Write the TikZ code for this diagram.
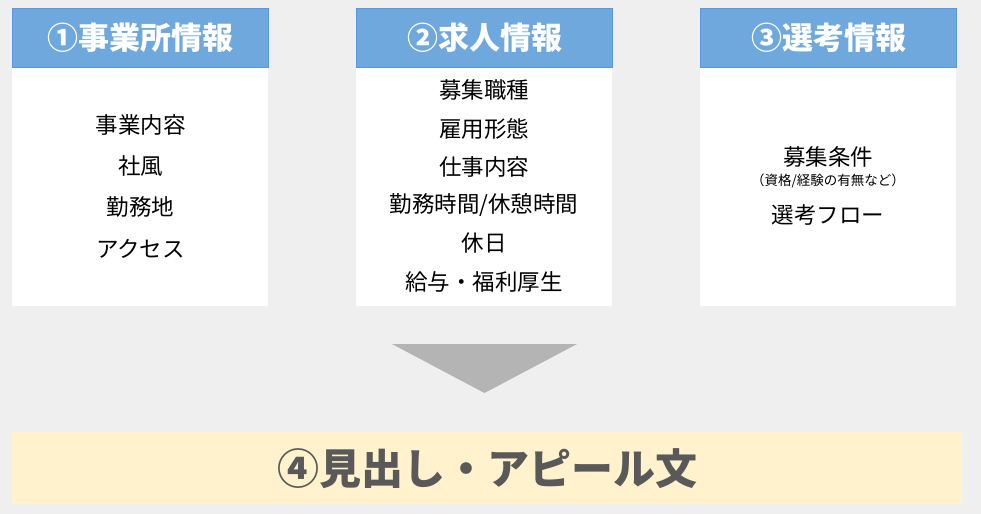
\documentclass[tikz,border=0pt]{standalone}
\usepackage{fontspec}
\newfontfamily\jp{Noto Sans CJK JP}
\definecolor{bg}{HTML}{EFEFEF}
\definecolor{hdrfill}{HTML}{6FA8DC}
\definecolor{hdrline}{HTML}{5A95E6}
\definecolor{tri}{HTML}{B4B4B4}
\definecolor{yel}{HTML}{FFF2CC}
\definecolor{dtext}{HTML}{595959}
\tikzset{
  hdr/.style={draw=hdrline, line width=1pt, fill=hdrfill, minimum width=256pt, minimum height=59pt, inner sep=0pt, text=white, font=\jp\bfseries\fontsize{31}{34}\selectfont},
  bodybox/.style={fill=white, minimum width=256pt, minimum height=239pt, inner sep=0pt},
  item/.style={font=\jp\fontsize{22.5}{26}\selectfont, text=black, inner sep=0pt},
  smallitem/.style={font=\jp\fontsize{13.5}{16}\selectfont, text=black, inner sep=0pt},
}
\begin{document}
\begin{tikzpicture}[x=1pt,y=-1pt]
\fill[bg] (0,0) rectangle (981,514);
\useasboundingbox (0,0) rectangle (981,514);
% bodies
\node[bodybox, anchor=north west] (b1) at (12,67) {};
\node[bodybox, anchor=north west] (b2) at (356,67) {};
\node[bodybox, anchor=north west] (b3) at (700,67) {};
% headers
\node[hdr, anchor=north west] (h1) at (12,8) {①事業所情報};
\node[hdr, anchor=north west] (h2) at (356,8) {②求人情報};
\node[hdr, anchor=north west] (h3) at (700,8) {③選考情報};
% panel 1
\node[item] (p1a) at (140.5,125) {事業内容};
\node[item] (p1b) at (140.5,166) {社風};
\node[item] (p1c) at (140.5,207) {勤務地};
\node[item] (p1d) at (140.5,249) {アクセス};
% panel 2
\node[item] (p2a) at (484,90) {募集職種};
\node[item] (p2b) at (484,129) {雇用形態};
\node[item] (p2c) at (484,167) {仕事内容};
\node[item] (p2d) at (484,205) {勤務時間/休憩時間};
\node[item] (p2e) at (484,243) {休日};
\node[item] (p2f) at (484,282) {給与・福利厚生};
% panel 3
\node[item] (p3a) at (828,157) {募集条件};
\node[smallitem] (p3b) at (828,181) {（資格/経験の有無など）};
\node[item] (p3c) at (828,215) {選考フロー};
% arrow triangle
\coordinate (tl) at (392,344);
\coordinate (tr) at (577,344);
\coordinate (tb) at (484.5,393);
\fill[tri] (tl) -- (tr) -- (tb) -- cycle;
% bottom box
\node[fill=yel, minimum width=950pt, minimum height=72pt, inner sep=0pt, anchor=north west, text=dtext, font=\jp\bfseries\fontsize{42}{46}\selectfont] (res) at (12,432) {④見出し・アピール文};
\end{tikzpicture}
\end{document}
